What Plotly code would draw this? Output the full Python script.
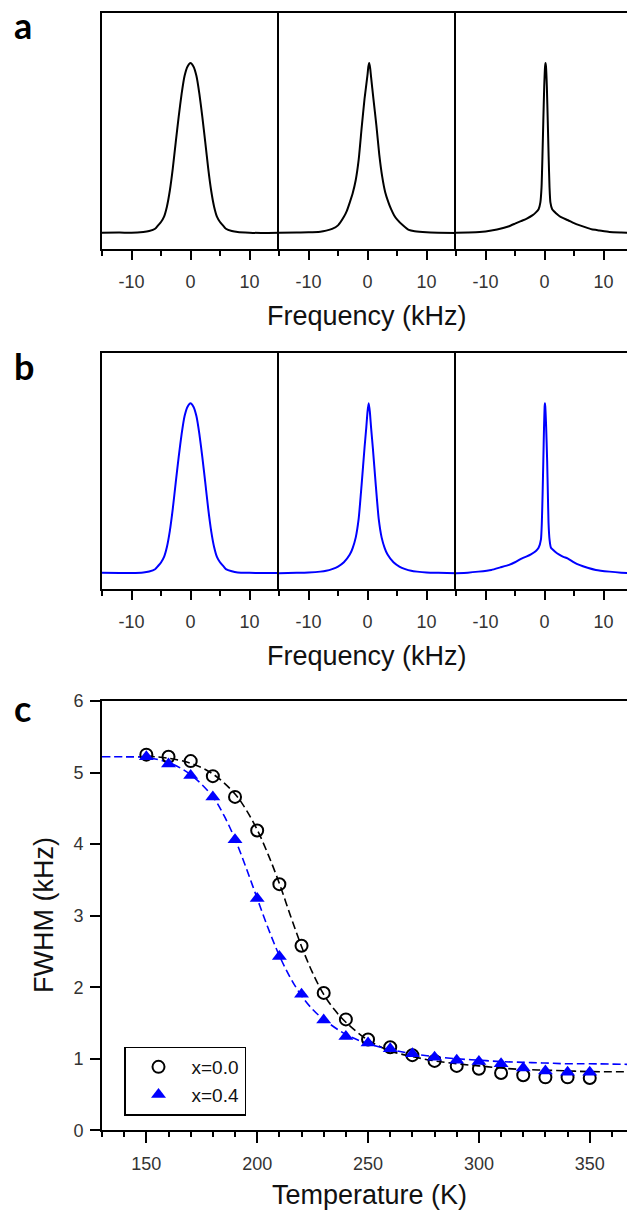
import plotly.graph_objects as go

# ---------------- data: NMR spectra (normalised intensity vs frequency, kHz) ----------------
a1_freq = [-15, -12, -10, -8, -7, -6, -5.5, -5, -4.5, -4, -3.5, -3, -2.5, -2, -1.5, -1, -0.5, 0,
           0.5, 1, 1.5, 2, 2.5, 3, 3.5, 4, 4.5, 5, 5.5, 6, 7, 8, 10, 12, 15]
a1_int = [0.002, 0.003, 0.001, 0.006, 0.012, 0.025, 0.045, 0.065, 0.095, 0.155, 0.25, 0.38, 0.535,
          0.685, 0.82, 0.925, 0.98, 1.0, 0.98, 0.925, 0.82, 0.685, 0.535, 0.38, 0.25, 0.155, 0.095,
          0.065, 0.045, 0.025, 0.012, 0.006, 0.002, 0.0, 0.001]

a2_freq = [-15, -12, -10, -8, -7, -6, -5, -4, -3.5, -3, -2.5, -2, -1.5, -1, -0.5, 0, 0.15, 0.29,
           0.45, 0.6, 1, 1.5, 2, 2.5, 3, 3.5, 4, 4.5, 5, 6, 7, 8, 10, 12, 15]
a2_int = [0.001, 0.003, 0.004, 0.008, 0.014, 0.024, 0.045, 0.095, 0.13, 0.18, 0.235, 0.31, 0.43,
          0.615, 0.79, 0.93, 0.98, 1.0, 0.97, 0.92, 0.79, 0.635, 0.46, 0.33, 0.24, 0.185, 0.14,
          0.105, 0.08, 0.045, 0.018, 0.01, 0.004, 0.002, 0.0]

a3_freq = [-15, -13, -11, -9, -7, -6, -5, -4, -3, -2, -1.5, -1, -0.7, -0.5, -0.35, -0.2, -0.05,
           0.1, 0.17, 0.25, 0.4, 0.55, 0.7, 0.85, 1.0, 1.3, 2, 2.5, 3, 4, 5, 6, 7, 8, 9.3, 11, 13, 15]
a3_int = [0.001, 0.003, 0.006, 0.015, 0.03, 0.04, 0.055, 0.07, 0.085, 0.105, 0.12, 0.14, 0.18,
          0.27, 0.45, 0.66, 0.86, 0.98, 1.0, 0.98, 0.86, 0.66, 0.45, 0.27, 0.18, 0.14, 0.115,
          0.10, 0.09, 0.075, 0.058, 0.045, 0.033, 0.022, 0.015, 0.006, 0.003, 0.001]

b1_freq = [-15, -12, -10, -8, -7, -6, -5.5, -5, -4.5, -4, -3.5, -3, -2.5, -2, -1.5, -1, -0.5, 0,
           0.5, 1, 1.5, 2, 2.5, 3, 3.5, 4, 4.5, 5, 5.5, 6, 7, 8, 10, 12, 15]
b1_int = [0.003, 0.002, 0.002, 0.005, 0.011, 0.024, 0.043, 0.064, 0.095, 0.155, 0.25, 0.38, 0.535,
          0.685, 0.82, 0.925, 0.98, 1.0, 0.98, 0.925, 0.82, 0.685, 0.535, 0.38, 0.25, 0.155, 0.095,
          0.065, 0.045, 0.025, 0.012, 0.005, 0.003, 0.002, 0.002]

b2_freq = [-15, -12, -10, -8, -7, -6, -5, -4, -3, -2.5, -2, -1.5, -1, -0.5, -0.2, 0, 0.2, 0.4,
           0.6, 0.9, 1.4, 1.9, 2.4, 2.9, 3.4, 4.4, 5.4, 6.4, 7.4, 8.4, 10, 12, 15]
b2_int = [0.001, 0.003, 0.005, 0.01, 0.015, 0.025, 0.04, 0.065, 0.11, 0.15, 0.21, 0.32, 0.52,
          0.74, 0.86, 0.95, 1.0, 0.95, 0.86, 0.74, 0.52, 0.32, 0.21, 0.15, 0.11, 0.065, 0.04,
          0.025, 0.015, 0.01, 0.005, 0.003, 0.001]

b3_freq = [-15, -13, -11.2, -9, -7.5, -6, -5, -3.8, -3, -2.3, -1.5, -1, -0.6, -0.45, -0.32, -0.2,
           -0.08, 0.02, 0.07, 0.13, 0.28, 0.45, 0.57, 0.68, 0.85, 1.1, 1.8, 2.5, 3.2, 3.9, 5, 5.9,
           7.3, 8.7, 11, 13, 15]
b3_int = [0.001, 0.004, 0.01, 0.02, 0.035, 0.05, 0.065, 0.088, 0.1, 0.112, 0.13, 0.15, 0.2, 0.3,
          0.47, 0.66, 0.86, 0.98, 1.0, 0.98, 0.86, 0.66, 0.47, 0.3, 0.2, 0.15, 0.127, 0.11, 0.097,
          0.088, 0.065, 0.05, 0.033, 0.02, 0.01, 0.004, 0.001]

# ---------------- data: FWHM vs temperature ----------------
temp = [150, 160, 170, 180, 190, 200, 210, 220, 230, 240, 250, 260, 270, 280, 290, 300, 310, 320,
        330, 340, 350]
fwhm_x00 = [5.25, 5.22, 5.16, 4.95, 4.66, 4.19, 3.44, 2.58, 1.92, 1.55, 1.27, 1.16, 1.05, 0.97,
            0.90, 0.86, 0.80, 0.77, 0.74, 0.74, 0.73]
fwhm_x04 = [5.22, 5.12, 4.96, 4.66, 4.06, 3.24, 2.43, 1.90, 1.54, 1.31, 1.22, 1.14, 1.07, 1.02,
            0.98, 0.96, 0.93, 0.87, 0.83, 0.81, 0.81]

fit_x00_temp = [150, 160, 170, 180, 190, 195, 200, 205, 210, 215, 220, 225, 230, 235, 240, 250,
                260, 270, 280, 290, 300, 310, 320, 330, 340, 350, 370]
fit_x00 = [5.23, 5.20, 5.13, 4.98, 4.70, 4.48, 4.20, 3.85, 3.45, 3.00, 2.57, 2.20, 1.90, 1.68,
           1.51, 1.26, 1.11, 1.03, 0.97, 0.93, 0.90, 0.87, 0.85, 0.84, 0.83, 0.82, 0.82]
fit_x04_temp = [130, 140, 150, 160, 170, 180, 185, 190, 195, 200, 205, 210, 215, 220, 225, 230,
                240, 250, 260, 270, 280, 290, 300, 310, 320, 330, 340, 350, 370]
fit_x04 = [5.22, 5.22, 5.21, 5.14, 4.97, 4.66, 4.40, 4.07, 3.67, 3.24, 2.82, 2.44, 2.13, 1.88,
           1.69, 1.55, 1.34, 1.21, 1.13, 1.07, 1.03, 1.00, 0.98, 0.96, 0.95, 0.94, 0.93, 0.93, 0.92]

freq_ticks = [-10, 0, 10]
freq_ticktext = ["-10", "0", "10"]
temp_ticks = [150, 200, 250, 300, 350]
fwhm_ticks = [0, 1, 2, 3, 4, 5, 6]
legend_names = ["x=0.0", "x=0.4"]

# ---------------- layout helpers ----------------
W, H = 627, 1212
FONT = "Liberation Sans, Arial, sans-serif"
BLACK = "#000000"
BLUE = "#0000FF"


def px_x(p):
    return p / W


def px_y(p):
    return 1 - p / H


fig = go.Figure()

spectra = [
    (a1_freq, a1_int, BLACK), (a2_freq, a2_int, BLACK), (a3_freq, a3_int, BLACK),
    (b1_freq, b1_int, BLUE), (b2_freq, b2_int, BLUE), (b3_freq, b3_int, BLUE),
]
for i, (f, s, c) in enumerate(spectra, start=1):
    fig.add_trace(go.Scatter(x=f, y=s, mode="lines", line=dict(color=c, width=2,
                                                               shape="spline", smoothing=0.5),
                             xaxis=f"x{i}", yaxis=f"y{i}", showlegend=False))

# FWHM panel
fig.add_trace(go.Scatter(x=fit_x00_temp, y=fit_x00, mode="lines", line_shape="spline",
                         line=dict(color=BLACK, width=1.6, dash="8px,4px"),
                         xaxis="x7", yaxis="y7", showlegend=False))
fig.add_trace(go.Scatter(x=fit_x04_temp, y=fit_x04, mode="lines", line_shape="spline",
                         line=dict(color=BLUE, width=1.6, dash="8px,4px"),
                         xaxis="x7", yaxis="y7", showlegend=False))
fig.add_trace(go.Scatter(x=temp, y=fwhm_x00, mode="markers", name=legend_names[0],
                         marker=dict(symbol="circle-open", size=12, color=BLACK,
                                     line=dict(width=2, color=BLACK)),
                         xaxis="x7", yaxis="y7"))
fig.add_trace(go.Scatter(x=temp, y=fwhm_x04, mode="markers", name=legend_names[1],
                         marker=dict(symbol="triangle-up", size=13, color=BLUE,
                                     line=dict(width=0)),
                         xaxis="x7", yaxis="y7"))

layout = dict(
    width=W, height=H, margin=dict(l=0, r=0, t=0, b=0, pad=0, autoexpand=False),
    paper_bgcolor="white", plot_bgcolor="white",
    font=dict(family=FONT, color="#222", size=18),
    showlegend=True,
    legend=dict(x=px_x(124), y=px_y(1046.5), xanchor="left", yanchor="top",
                bordercolor=BLACK, borderwidth=1.5, bgcolor="white",
                font=dict(family=FONT, size=19, color="#111"),
                itemwidth=56, tracegroupgap=0, traceorder="normal"),
)

xdoms = [(102, 279), (279, 456), (456, 627)]
rows = [(13, 249), (353.3, 589.3)]
ax = 1
for (top, bot) in rows:
    for j, (l, r) in enumerate(xdoms):
        xr = [-15, 15] if j < 2 else [-15, 15 - (633 - 627) / 5.9]
        layout[f"xaxis{ax}"] = dict(
            domain=[px_x(l), px_x(r)], anchor=f"y{ax}", range=xr, automargin=False,
            showline=True, linecolor=BLACK, linewidth=2, mirror=True,
            showgrid=False, zeroline=False,
            tickmode="array", tickvals=freq_ticks, ticktext=freq_ticktext,
            ticks="outside", ticklen=9, tickwidth=1.5, tickcolor=BLACK,
            tickfont=dict(family=FONT, size=18, color="#333"), ticklabelstandoff=6,
            minor=dict(tickmode="linear", tick0=-15, dtick=5, ticks="outside", ticklen=5,
                       tickwidth=1.5, tickcolor=BLACK, showgrid=False),
            fixedrange=True,
        )
        layout[f"yaxis{ax}"] = dict(
            domain=[px_y(bot), px_y(top)], anchor=f"x{ax}", range=[-0.094, 1.294],
            automargin=False,
            showline=True, linecolor=BLACK, linewidth=2, mirror=False,
            showgrid=False, zeroline=False, showticklabels=False, ticks="",
            fixedrange=True,
        )
        ax += 1

layout["xaxis7"] = dict(
    domain=[px_x(102), 1.0], anchor="y7", range=[130, 366.8], automargin=False,
    showline=True, linecolor=BLACK, linewidth=2, mirror=True,
    showgrid=False, zeroline=False,
    tickmode="array", tickvals=temp_ticks, ticks="outside", ticklen=11, tickwidth=1.5,
    tickcolor=BLACK, tickfont=dict(family=FONT, size=18, color="#333"), ticklabelstandoff=5,
    minor=dict(tickmode="linear", tick0=130, dtick=10, ticks="outside", ticklen=5,
               tickwidth=1.5, tickcolor=BLACK, showgrid=False),
    fixedrange=True,
)
layout["yaxis7"] = dict(
    domain=[px_y(1130.3), px_y(701)], anchor="x7", range=[0, 6], automargin=False,
    showline=True, linecolor=BLACK, linewidth=2, mirror=False,
    showgrid=False, zeroline=False,
    tickmode="array", tickvals=fwhm_ticks, ticks="outside", ticklen=10, tickwidth=1.5,
    tickcolor=BLACK, tickfont=dict(family=FONT, size=18, color="#333"),
    ticklabelstandoff=3, fixedrange=True,
)

fig.update_layout(**layout)

annots = [
    dict(text="a", x=px_x(23), y=px_y(25)),
    dict(text="b", x=px_x(24), y=px_y(366)),
    dict(text="c", x=px_x(22), y=px_y(708)),
]
for a in annots:
    fig.add_annotation(xref="paper", yref="paper", showarrow=False, xanchor="center",
                       yanchor="middle", font=dict(family="Lato, Open Sans, sans-serif",
                                                   size=36, color=BLACK, weight="bold"), **a)

titles = [
    dict(text="Frequency (kHz)", x=px_x(367), y=px_y(316)),
    dict(text="Frequency (kHz)", x=px_x(367), y=px_y(656)),
    dict(text="Temperature (K)", x=px_x(369), y=px_y(1195)),
]
for t in titles:
    fig.add_annotation(xref="paper", yref="paper", showarrow=False, xanchor="center",
                       yanchor="middle", font=dict(family=FONT, size=27, color="#111"), **t)
fig.add_annotation(xref="paper", yref="paper", showarrow=False, xanchor="center",
                   yanchor="middle", text="FWHM (kHz)", textangle=-90,
                   x=px_x(44), y=px_y(915), font=dict(family=FONT, size=27, color="#111"))

fig.write_html("out.html")
